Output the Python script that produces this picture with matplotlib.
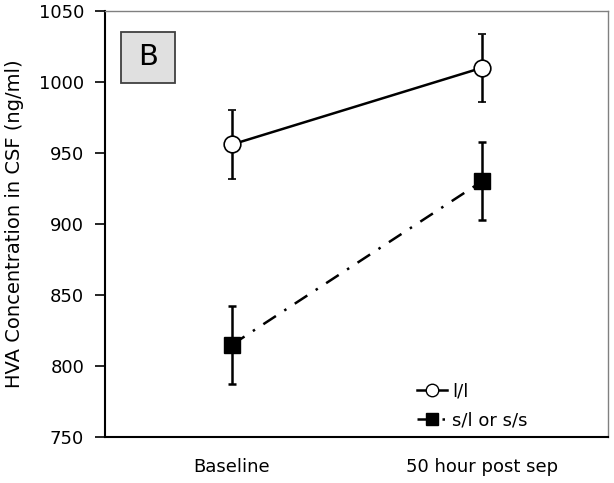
import matplotlib
matplotlib.use("Agg")
import matplotlib.pyplot as plt
from matplotlib.patches import Rectangle
from matplotlib.lines import Line2D

categories = ["Baseline", "50 hour post sep"]
ll_values = [956, 1010]
ll_err = [24, 24]
sl_values = [815, 930]
sl_err = [27.5, 27.5]
yticks = [750, 800, 850, 900, 950, 1000, 1050]
labels = ["l/l", "s/l or s/s"]

plt.rcParams['font.family'] = ['DejaVu Sans']

fig = plt.figure(figsize=(6.14, 4.83), dpi=100)
ax = fig.add_axes([0.171, 0.0952, 0.819, 0.882])

x = list(range(len(categories)))
dashdot = (0, (6, 4, 1, 4))

ax.errorbar(x, ll_values, yerr=ll_err, color='black', lw=1.8, ls='-',
            marker='o', markersize=12, markerfacecolor='white',
            markeredgecolor='black', markeredgewidth=1.2,
            ecolor='black', elinewidth=1.8, capsize=3, capthick=1.8,
            zorder=3)
ax.errorbar(x, sl_values, yerr=sl_err, color='black', lw=1.8,
            ls=dashdot,
            marker='s', markersize=12, markerfacecolor='black',
            markeredgecolor='black',
            ecolor='black', elinewidth=1.8, capsize=3, capthick=1.8,
            zorder=3)

ax.set_xlim(-0.508, 1.504)
ax.set_ylim(750, 1050)
ax.set_yticks(yticks)
ax.set_xticks(x)
ax.set_xticklabels(categories)
ax.tick_params(axis='x', length=0, pad=15, labelsize=13)
ax.tick_params(axis='y', direction='out', length=7, width=1.2, labelsize=13, pad=8)
ax.set_ylabel("HVA Concentration in CSF (ng/ml)", fontsize=14, labelpad=11)

for s in ['left', 'bottom']:
    ax.spines[s].set_linewidth(1.5)
    ax.spines[s].set_color('black')
for s in ['top', 'right']:
    ax.spines[s].set_linewidth(1.0)
    ax.spines[s].set_color('#808080')

handles = [
    Line2D([], [], color='black', lw=1.8, ls='-', marker='o', markersize=9,
           markerfacecolor='white', markeredgecolor='black', markeredgewidth=1.0),
    Line2D([], [], color='black', lw=1.8, ls=dashdot, marker='s', markersize=9,
           markerfacecolor='black', markeredgecolor='black'),
]
ax.legend(handles, labels, loc='center left', bbox_to_anchor=(0.62, 0.073),
          frameon=False, fontsize=13, handlelength=1.7,
          handletextpad=0.25, borderpad=0, borderaxespad=0,
          labelspacing=0.65)

# Panel label box
bx, by, bw, bh = 0.0855, 0.891, 0.1074, 0.1197
ax.add_patch(Rectangle((bx - bw / 2, by - bh / 2), bw, bh, transform=ax.transAxes,
                       facecolor='#e0e0e0', edgecolor='#404040', linewidth=1.3,
                       zorder=4))
ax.text(bx, by, "B", transform=ax.transAxes, fontsize=21,
        ha='center', va='center', zorder=5)

fig.savefig("out.png", dpi=100)
